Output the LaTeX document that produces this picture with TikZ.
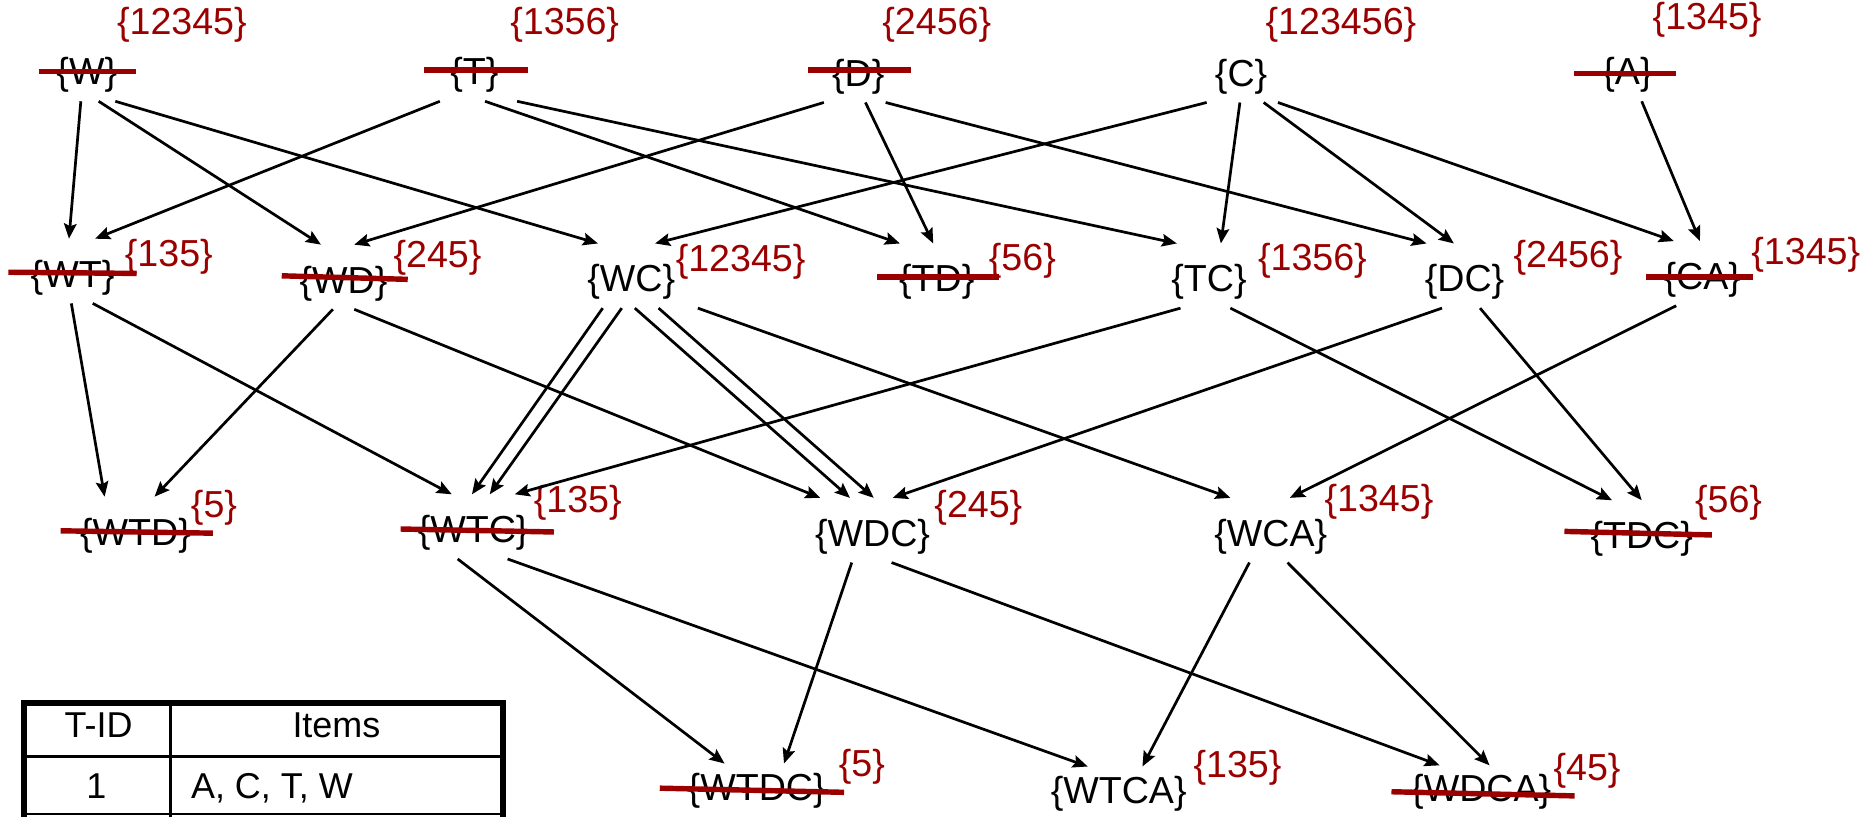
\documentclass[tikz,border=0pt]{standalone}
\usepackage{fontspec}
\setmainfont{Liberation Sans}
\usetikzlibrary{arrows.meta}
\definecolor{prune}{RGB}{155,0,0}

\begin{document}
\begin{tikzpicture}[
  item/.style={font=\fontsize{9}{10}\selectfont, text height=0.24cm, text depth=0.07cm, inner xsep=0.05cm, inner ysep=0.06cm},
  support/.style={font=\fontsize{9}{10}\selectfont, text=prune, inner sep=0pt},
  strike/.style={prune, line width=1.3pt},
  arr/.style={-{Stealth[length=3.6pt,width=3pt,inset=0.6pt]}, line width=0.65pt},
  cell/.style={font=\fontsize{8.6}{10}\selectfont, inner sep=0pt, text height=0.21cm, text depth=0.05cm}
]
% Page area
\useasboundingbox (0,0) rectangle (15.68,-6.87);

% Level 1 itemsets
\node[item] (W) at (0.73,-0.63) {\{W\}};
\node[item] (T) at (3.99,-0.63) {\{T\}};
\node[item] (D) at (7.22,-0.64) {\{D\}};
\node[item] (C) at (10.44,-0.64) {\{C\}};
\node[item] (A) at (13.69,-0.63) {\{A\}};

% Level 2 itemsets
\node[item] (WT) at (0.61,-2.33) {\{WT\}};
\node[item] (WD) at (2.89,-2.38) {\{WD\}};
\node[item] (WC) at (5.31,-2.37) {\{WC\}};
\node[item] (TD) at (7.88,-2.37) {\{TD\}};
\node[item] (TC) at (10.17,-2.37) {\{TC\}};
\node[item] (DC) at (12.32,-2.37) {\{DC\}};
\node[item] (CA) at (14.32,-2.35) {\{CA\}};

% Level 3 itemsets
\node[item] (WTD) at (1.14,-4.50) {\{WTD\}};
\node[item] (WTC) at (3.98,-4.48) {\{WTC\}};
\node[item] (WDC) at (7.34,-4.51) {\{WDC\}};
\node[item] (WCA) at (10.69,-4.51) {\{WCA\}};
\node[item] (TDC) at (13.81,-4.53) {\{TDC\}};

% Level 4 itemsets
\node[item] (WTDC) at (6.365,-6.645) {\{WTDC\}};
\node[item] (WTCA) at (9.41,-6.67) {\{WTCA\}};
\node[item] (WDCA) at (12.46,-6.66) {\{WDCA\}};

% Transaction id lists
\node[support] (sW) at (1.53,-0.21) {\{12345\}};
\node[support] (sT) at (4.75,-0.21) {\{1356\}};
\node[support] (sD) at (7.88,-0.21) {\{2456\}};
\node[support] (sC) at (11.28,-0.21) {\{123456\}};
\node[support] (sA) at (14.36,-0.17) {\{1345\}};
\node[support] (sWT) at (1.42,-2.16) {\{135\}};
\node[support] (sWD) at (3.68,-2.17) {\{245\}};
\node[support] (sWC) at (6.23,-2.20) {\{12345\}};
\node[support] (sTD) at (8.60,-2.19) {\{56\}};
\node[support] (sTC) at (11.04,-2.19) {\{1356\}};
\node[support] (sDC) at (13.19,-2.17) {\{2456\}};
\node[support] (sCA) at (15.19,-2.14) {\{1345\}};
\node[support] (sWTD) at (1.80,-4.27) {\{5\}};
\node[support] (sWTC) at (4.86,-4.23) {\{135\}};
\node[support] (sWDC) at (8.23,-4.27) {\{245\}};
\node[support] (sWCA) at (11.60,-4.22) {\{1345\}};
\node[support] (sTDC) at (14.54,-4.23) {\{56\}};
\node[support] (sWTDC) at (7.25,-6.45) {\{5\}};
\node[support] (sWTCA) at (10.41,-6.46) {\{135\}};
\node[support] (sWDCA) at (13.35,-6.48) {\{45\}};

% Cross out the infrequent ones
\draw[strike] (0.33,-0.60) -- (1.14,-0.60);
\draw[strike] (3.57,-0.59) -- (4.44,-0.59);
\draw[strike] (6.80,-0.59) -- (7.66,-0.59);
\draw[strike] (13.24,-0.62) -- (14.10,-0.62);
\draw[strike] (0.07,-2.29) -- (1.15,-2.30);
\draw[strike] (2.37,-2.32) -- (3.43,-2.35);
\draw[strike] (7.38,-2.33) -- (8.40,-2.33);
\draw[strike] (13.85,-2.33) -- (14.75,-2.33);
\draw[strike] (0.51,-4.465) -- (1.79,-4.485);
\draw[strike] (3.37,-4.45) -- (4.66,-4.475);
\draw[strike] (13.16,-4.47) -- (14.40,-4.50);
\draw[strike] (5.55,-6.63) -- (7.10,-6.665);
\draw[strike] (11.705,-6.66) -- (13.245,-6.695);

% Level 1 -> level 2
\draw[arr] ([xshift=-0.05cm]W.south) -- ([shift={(-0.03,0.1)}]WT.north);
\draw[arr] ([xshift=0.10cm]W.south) -- ([shift={(-0.19,0.1)}]WD.north);
\draw[arr] ([xshift=0.24cm]W.south) -- ([shift={(-0.28,0.1)}]WC.north);
\draw[arr] ([xshift=-0.29cm]T.south) -- ([shift={(0.19,0.1)}]WT.north);
\draw[arr] ([xshift=0.09cm]T.south) -- ([shift={(-0.31,0.1)}]TD.north);
\draw[arr] ([xshift=0.36cm]T.south) -- ([shift={(-0.27,0.1)}]TC.north);
\draw[arr] ([xshift=-0.29cm]D.south) -- ([shift={(0.09,0.1)}]WD.north);
\draw[arr] ([xshift=0.06cm]D.south) -- ([shift={(-0.03,0.1)}]TD.north);
\draw[arr] ([xshift=0.23cm]D.south) -- ([shift={(-0.32,0.1)}]DC.north);
\draw[arr] ([xshift=-0.29cm]C.south) -- ([shift={(0.20,0.1)}]WC.north);
\draw[arr] ([xshift=-0.01cm]C.south) -- ([shift={(0.10,0.1)}]TC.north);
\draw[arr] ([xshift=0.19cm]C.south) -- ([shift={(-0.09,0.1)}]DC.north);
\draw[arr] ([xshift=0.31cm]C.south) -- ([shift={(-0.24,0.1)}]CA.north);
\draw[arr] ([xshift=0.12cm]A.south) -- ([shift={(-0.02,0.1)}]CA.north);

% Level 2 -> level 3
\draw[arr] ([xshift=-0.01cm]WT.south) -- ([shift={(-0.26,0.1)}]WTD.north);
\draw[arr] ([xshift=0.17cm]WT.south) -- ([shift={(-0.18,0.1)}]WTC.north);
\draw[arr] ([xshift=-0.09cm]WD.south) -- ([shift={(0.16,0.1)}]WTD.north);
\draw[arr] ([xshift=0.09cm]WD.south) -- ([shift={(-0.44,0.1)}]WDC.north);
\draw[arr] ([xshift=-0.24cm]WC.south) -- ([shift={(-0.01,0.1)}]WTC.north);
\draw[arr] ([xshift=-0.08cm]WC.south) -- ([shift={(0.14,0.1)}]WTC.north);
\draw[arr] ([xshift=0.03cm]WC.south) -- ([shift={(-0.19,0.1)}]WDC.north);
\draw[arr] ([xshift=0.23cm]WC.south) -- ([shift={(0.01,0.1)}]WDC.north);
\draw[arr] ([xshift=0.56cm]WC.south) -- ([shift={(-0.34,0.1)}]WCA.north);
\draw[arr] ([xshift=-0.24cm]TC.south) -- ([shift={(0.35,0.1)}]WTC.north);
\draw[arr] ([xshift=0.18cm]TC.south) -- ([shift={(-0.25,0.1)}]TDC.north);
\draw[arr] ([xshift=-0.19cm]DC.south) -- ([shift={(0.17,0.1)}]WDC.north);
\draw[arr] ([xshift=0.13cm]DC.south) -- ([shift={(0,0.1)}]TDC.north);
\draw[arr] ([xshift=-0.22cm]CA.south) -- ([shift={(0.16,0.1)}]WCA.north);

% Level 3 -> level 4
\draw[arr] ([xshift=-0.13cm]WTC.south) -- ([xshift=-0.27cm]WTDC.north);
\draw[arr] ([xshift=0.29cm]WTC.south) -- ([xshift=-0.26cm]WTCA.north);
\draw[arr] ([xshift=-0.175cm]WDC.south) -- ([xshift=0.23cm]WTDC.north);
\draw[arr] ([xshift=0.16cm]WDC.south) -- ([xshift=-0.35cm]WDCA.north);
\draw[arr] ([xshift=-0.18cm]WCA.south) -- ([xshift=0.20cm]WTCA.north);
\draw[arr] ([xshift=0.14cm]WCA.south) -- ([xshift=0.07cm]WDCA.north);

% Transaction table, cut off at the bottom edge
\draw[line width=1.4pt] (0.20,-6.87) -- (0.20,-5.915) -- (4.23,-5.915) -- (4.23,-6.87);
\draw[line width=0.6pt] (1.435,-5.915) -- (1.435,-6.87);
\draw[line width=0.6pt] (0.20,-6.365) -- (4.23,-6.365);
\draw[line width=0.5pt] (0.20,-6.845) -- (4.23,-6.845);
\node[cell] (tid) at (0.83,-6.125) {T-ID};
\node[cell] (titems) at (2.83,-6.125) {Items};
\node[cell] (rid) at (0.81,-6.64) {1};
\node[cell, anchor=west] (ritems) at (1.60,-6.64) {A, C, T, W};
\end{tikzpicture}
\end{document}
